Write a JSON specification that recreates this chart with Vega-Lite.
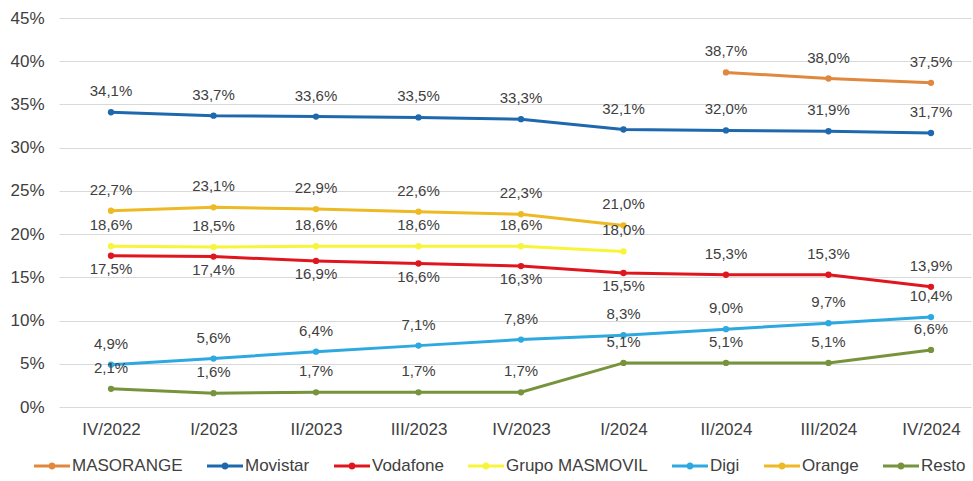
{
  "$schema": "https://vega.github.io/schema/vega-lite/v6.json",
  "width": 912,
  "height": 389,
  "autosize": "none",
  "padding": {"left": 59, "top": 18, "right": 2, "bottom": 74},
  "background": "white",
  "config": {
    "locale": {"number": {"decimal": ",", "thousands": ".", "grouping": [3], "currency": ["", " €"]}},
    "view": {"stroke": null},
    "font": "Liberation Sans",
    "axis": {"labelFont": "Liberation Sans", "labelColor": "#404040", "labelFontSize": 17, "domain": false, "ticks": false, "title": null},
    "legend": {
      "orient": "none", "direction": "horizontal", "legendX": -25, "legendY": 430,
      "symbolType": "M-1,-0.085H1V0.085H-1Z M-0.2,0A0.2,0.2 0 1,1 0.2,0A0.2,0.2 0 1,1 -0.2,0Z",
      "symbolSize": 1296, "symbolStrokeWidth": 0, "symbolOpacity": 1,
      "labelFont": "Liberation Sans", "labelFontSize": 17, "labelColor": "#404040",
      "labelOffset": 2, "columnPadding": 24
    }
  },
  "data": {"values": [
    {"q": "II/2024", "series": "MASORANGE", "v": 0.387},
    {"q": "III/2024", "series": "MASORANGE", "v": 0.380},
    {"q": "IV/2024", "series": "MASORANGE", "v": 0.375},
    {"q": "IV/2022", "series": "Movistar", "v": 0.341},
    {"q": "I/2023", "series": "Movistar", "v": 0.337},
    {"q": "II/2023", "series": "Movistar", "v": 0.336},
    {"q": "III/2023", "series": "Movistar", "v": 0.335},
    {"q": "IV/2023", "series": "Movistar", "v": 0.333},
    {"q": "I/2024", "series": "Movistar", "v": 0.321},
    {"q": "II/2024", "series": "Movistar", "v": 0.320},
    {"q": "III/2024", "series": "Movistar", "v": 0.319},
    {"q": "IV/2024", "series": "Movistar", "v": 0.317},
    {"q": "IV/2022", "series": "Vodafone", "v": 0.175},
    {"q": "I/2023", "series": "Vodafone", "v": 0.174},
    {"q": "II/2023", "series": "Vodafone", "v": 0.169},
    {"q": "III/2023", "series": "Vodafone", "v": 0.166},
    {"q": "IV/2023", "series": "Vodafone", "v": 0.163},
    {"q": "I/2024", "series": "Vodafone", "v": 0.155},
    {"q": "II/2024", "series": "Vodafone", "v": 0.153},
    {"q": "III/2024", "series": "Vodafone", "v": 0.153},
    {"q": "IV/2024", "series": "Vodafone", "v": 0.139},
    {"q": "IV/2022", "series": "Grupo MASMOVIL", "v": 0.186},
    {"q": "I/2023", "series": "Grupo MASMOVIL", "v": 0.185},
    {"q": "II/2023", "series": "Grupo MASMOVIL", "v": 0.186},
    {"q": "III/2023", "series": "Grupo MASMOVIL", "v": 0.186},
    {"q": "IV/2023", "series": "Grupo MASMOVIL", "v": 0.186},
    {"q": "I/2024", "series": "Grupo MASMOVIL", "v": 0.180},
    {"q": "IV/2022", "series": "Digi", "v": 0.049},
    {"q": "I/2023", "series": "Digi", "v": 0.056},
    {"q": "II/2023", "series": "Digi", "v": 0.064},
    {"q": "III/2023", "series": "Digi", "v": 0.071},
    {"q": "IV/2023", "series": "Digi", "v": 0.078},
    {"q": "I/2024", "series": "Digi", "v": 0.083},
    {"q": "II/2024", "series": "Digi", "v": 0.090},
    {"q": "III/2024", "series": "Digi", "v": 0.097},
    {"q": "IV/2024", "series": "Digi", "v": 0.104},
    {"q": "IV/2022", "series": "Orange", "v": 0.227},
    {"q": "I/2023", "series": "Orange", "v": 0.231},
    {"q": "II/2023", "series": "Orange", "v": 0.229},
    {"q": "III/2023", "series": "Orange", "v": 0.226},
    {"q": "IV/2023", "series": "Orange", "v": 0.223},
    {"q": "I/2024", "series": "Orange", "v": 0.210},
    {"q": "IV/2022", "series": "Resto", "v": 0.021},
    {"q": "I/2023", "series": "Resto", "v": 0.016},
    {"q": "II/2023", "series": "Resto", "v": 0.017},
    {"q": "III/2023", "series": "Resto", "v": 0.017},
    {"q": "IV/2023", "series": "Resto", "v": 0.017},
    {"q": "I/2024", "series": "Resto", "v": 0.051},
    {"q": "II/2024", "series": "Resto", "v": 0.051},
    {"q": "III/2024", "series": "Resto", "v": 0.051},
    {"q": "IV/2024", "series": "Resto", "v": 0.066}
  ]},
  "encoding": {
    "x": {
      "field": "q", "type": "ordinal",
      "scale": {"type": "point", "domain": ["IV/2022", "I/2023", "II/2023", "III/2023", "IV/2023", "I/2024", "II/2024", "III/2024", "IV/2024"], "padding": 0.449, "align": 0.565},
      "axis": {"labelAngle": 0, "labelPadding": 14, "grid": false}
    },
    "y": {
      "field": "v", "type": "quantitative",
      "scale": {"domain": [0, 0.45], "nice": false, "zero": true},
      "axis": {"format": ".0%", "values": [0, 0.05, 0.1, 0.15, 0.2, 0.25, 0.3, 0.35, 0.4, 0.45], "grid": true, "gridColor": "#d9d9d9", "gridWidth": 1, "labelPadding": 15}
    }
  },
  "layer": [
    {
      "mark": {"type": "line", "strokeWidth": 3, "interpolate": "linear"},
      "encoding": {
        "color": {"field": "series", "type": "nominal",
          "scale": {"domain": ["MASORANGE", "Movistar", "Vodafone", "Grupo MASMOVIL", "Digi", "Orange", "Resto"], "range": ["#E0883E", "#1E68AE", "#E0161E", "#F7F53A", "#2EA8E0", "#EDBA25", "#77933C"]},
          "legend": {"title": null, "encode": {"symbols": {"update": {"fill": {"scale": "color", "field": "value"}, "strokeWidth": {"value": 0}, "opacity": {"value": 1}}}}}}
      }
    },
    {
      "mark": {"type": "circle", "size": 40, "opacity": 1},
      "encoding": {
        "color": {"field": "series", "type": "nominal",
          "legend": {"title": null, "encode": {"symbols": {"update": {"fill": {"scale": "color", "field": "value"}, "strokeWidth": {"value": 0}, "opacity": {"value": 1}}}}}}
      }
    },
    {
      "transform": [{"filter": {"not": {"and": [{"field": "series", "equal": "Vodafone"}, {"field": "q", "oneOf": ["IV/2022", "I/2023", "II/2023", "III/2023", "IV/2023", "I/2024"]}]}}}],
      "mark": {"type": "text", "dy": -21, "fontSize": 15, "font": "Liberation Sans", "color": "#404040", "baseline": "middle", "align": "center"},
      "encoding": {"text": {"field": "v", "type": "quantitative", "format": ".1%"}}
    },
    {
      "transform": [{"filter": {"and": [{"field": "series", "equal": "Vodafone"}, {"field": "q", "oneOf": ["IV/2022", "I/2023", "II/2023", "III/2023", "IV/2023", "I/2024"]}]}}],
      "mark": {"type": "text", "dy": 13, "fontSize": 15, "font": "Liberation Sans", "color": "#404040", "baseline": "middle", "align": "center"},
      "encoding": {"text": {"field": "v", "type": "quantitative", "format": ".1%"}}
    }
  ]
}
